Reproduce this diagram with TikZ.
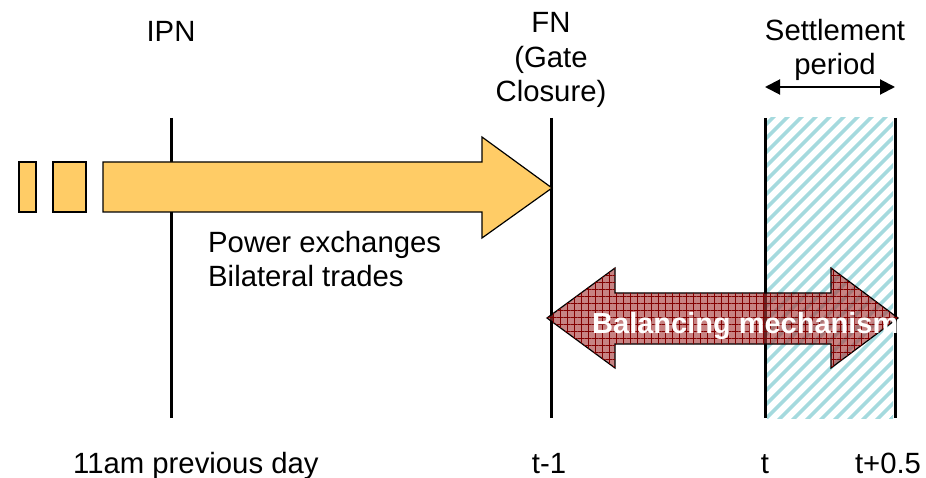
\documentclass[tikz,border=0pt]{standalone}
\usepackage{fontspec}
\setmainfont{Liberation Sans}
\usetikzlibrary{arrows.meta,patterns.meta}
\definecolor{tradeorange}{RGB}{255,204,102}
\definecolor{hatchblue}{RGB}{165,218,222}
\definecolor{balred}{RGB}{165,55,55}
\definecolor{griddark}{RGB}{130,0,0}

\begin{document}
\begin{tikzpicture}[x=1pt,y=-1pt,
  txt/.style={font=\fontsize{29.3}{34.5}\selectfont,inner sep=0pt},
  mark line/.style={line width=3pt},
  orange box/.style={draw,line width=1.2pt,fill=tradeorange},
  balance/.style={draw,line width=1.2pt,fill=balred,fill opacity=.62,
    postaction={pattern={Hatch[angle=0,distance=7pt,line width=.6pt]},pattern color=griddark}}]
\useasboundingbox (0,0) rectangle (926,478);

% settlement window
\fill[pattern={Lines[angle=45,distance=10.5pt,line width=4pt]},pattern color=hatchblue]
  (767,118) rectangle (893,418);

%: \timemark{<name>}{<x>}
\newcommand{\timemark}[2]{%
  \coordinate (#1 top) at (#2,118);
  \coordinate (#1 bot) at (#2,418);
  \draw[mark line] (#1 top) -- (#1 bot);}
\timemark{ipn}{171}
\timemark{fn}{551}
\timemark{t0}{765}
\timemark{t1}{895}

% trading arrow
\draw[orange box] (19,162) rectangle (36,212);
\draw[orange box] (53,162) rectangle (86,212);
\draw[orange box] (103,162) -- (482,162) -- (482,137) -- (552,188)
  -- (482,238) -- (482,212) -- (103,212) -- cycle;

% balancing arrow
\draw[balance] (547,318) -- (615,268) -- (615,293) -- (831,293) -- (831,268)
  -- (898,318) -- (831,368) -- (831,344) -- (615,344) -- (615,368) -- cycle;

% multi-line nodes: base is the last line
\node[txt,anchor=base] (ipn) at (171,42) {IPN};
\node[txt,anchor=base,align=center] (fn) at (551,102) {FN\\(Gate\\Closure)};
\node[txt,anchor=base,align=center] (settle) at (835,75) {Settlement\\period};
\coordinate (sp left) at (765,87);
\coordinate (sp right) at (895,87);
\draw[line width=2pt,{Triangle[length=15pt,width=15pt]}-{Triangle[length=15pt,width=15pt]}]
  (sp left) -- (sp right);

\node[txt,anchor=base west,align=left] (trades) at (208,287) {Power exchanges\\Bilateral trades};
\node[txt,font=\bfseries\fontsize{29}{34}\selectfont,text=white,anchor=base west] (bm)
  at (592,333) {Balancing mechanism};

\node[txt,anchor=base west] (day) at (73,473) {11am previous day};
\node[txt,anchor=base] (tm1) at (549,473) {t-1};
\node[txt,anchor=base] (t) at (765,473) {t};
\node[txt,anchor=base] (tp) at (888,473) {t+0.5};
\end{tikzpicture}
\end{document}
